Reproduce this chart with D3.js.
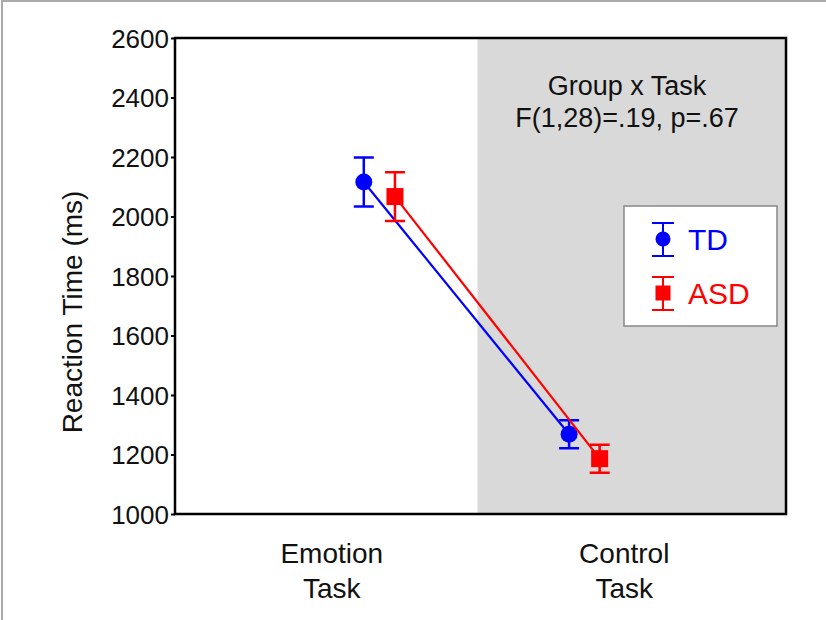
<!DOCTYPE html>
<html>
<head>
<meta charset="utf-8">
<script src="https://cdn.jsdelivr.net/npm/d3@7"></script>
<style>
  body { margin: 0; background: #fff; }
  text { font-family: "Liberation Sans", Arial, sans-serif; }
</style>
</head>
<body>
<div id="chart"></div>
<script>
var w = 826;
var h = 620;

// data
var tasks = ['Emotion Task', 'Control Task'];
var taskX = [1, 2];
var yTicks = [1000, 1200, 1400, 1600, 1800, 2000, 2200, 2400, 2600];

var tdX = [1.118, 1.79];
var tdMean = [2116, 1268];
var tdErr = [82, 47];

var asdX = [1.22, 1.89];
var asdMean = [2067, 1186];
var asdErr = [82, 47];

var shadeFrom = 1.49;
var annotation = ['Group x Task', 'F(1,28)=.19, p=.67'];

var svg = d3.select('#chart')
            .append('svg')
            .attr('width', w)
            .attr('height', h);

// outer frame (top + left only)
svg.append('path')
   .attr('d', 'M2,' + h + 'V1H' + w)
   .style('fill', 'none')
   .style('stroke', '#aaa')
   .style('stroke-width', 2);

var x = d3.scaleLinear()
          .domain([0.5, 2.5])
          .range([175, 786]);

var y = d3.scaleLinear()
          .domain([1000, 2600])
          .range([514, 38]);

// shaded control region
svg.append('rect')
   .attr('x', x(shadeFrom))
   .attr('y', y(2600))
   .attr('width', x(2.5) - x(shadeFrom))
   .attr('height', y(1000) - y(2600))
   .style('fill', '#d9d9d9');

// annotation
svg.selectAll('text.anno')
   .data(annotation)
   .enter()
   .append('text')
   .attr('class', 'anno')
   .attr('x', 627)
   .attr('y', function(d, i) { return 95 + i * 32; })
   .attr('text-anchor', 'middle')
   .style('font-size', '27px')
   .style('fill', '#111')
   .text(function(d) { return d; });

// axes
var yAxis = d3.axisLeft(y)
              .tickValues(yTicks)
              .tickSize(4)
              .tickPadding(2)
              .tickFormat(d3.format('d'));

var gy = svg.append('g')
            .attr('transform', 'translate(' + x(0.5) + ',0)')
            .call(yAxis);
gy.select('.domain').remove();
gy.selectAll('line').style('stroke', '#000').style('stroke-width', 2);
gy.selectAll('text')
  .style('font-size', '26px')
  .style('fill', '#111')
  .attr('dy', '0.36em');

// plot box
svg.append('rect')
   .attr('x', x(0.5))
   .attr('y', y(2600))
   .attr('width', x(2.5) - x(0.5))
   .attr('height', y(1000) - y(2600))
   .style('fill', 'none')
   .style('stroke', '#000')
   .style('stroke-width', 2.5);

// x category labels
var xl = svg.selectAll('text.xl')
            .data(tasks)
            .enter()
            .append('text')
            .attr('class', 'xl')
            .attr('text-anchor', 'middle')
            .style('font-size', '28px')
            .style('fill', '#111');
xl.each(function(d, i) {
    var parts = d.split(' ');
    d3.select(this).selectAll('tspan')
      .data(parts)
      .enter()
      .append('tspan')
      .attr('x', x(taskX[i]) + (i == 0 ? 4 : -9))
      .attr('y', function(p, j) { return 563 + j * 35; })
      .text(function(p) { return p; });
});

// y title
svg.append('text')
   .attr('transform', 'translate(82,312) rotate(-90)')
   .attr('text-anchor', 'middle')
   .style('font-size', '28px')
   .style('fill', '#111')
   .text('Reaction Time (ms)');

var line = d3.line()
             .x(function(d) { return x(d[0]); })
             .y(function(d) { return y(d[1]); });

function errBar(g, cx, m, e, color) {
    var cap = 10;
    g.append('path')
     .attr('d', 'M' + cx + ',' + y(m + e) + 'V' + y(m - e) +
                'M' + (cx - cap) + ',' + y(m + e) + 'h' + (2 * cap) +
                'M' + (cx - cap) + ',' + y(m - e) + 'h' + (2 * cap))
     .style('fill', 'none')
     .style('stroke', color)
     .style('stroke-width', 2.5);
}

function drawSeries(xs, means, errs, color, shape) {
    var g = svg.append('g');
    var pts = xs.map(function(v, i) { return [v, means[i]]; });
    g.append('path')
     .attr('d', line(pts))
     .style('fill', 'none')
     .style('stroke', color)
     .style('stroke-width', 2.2);
    pts.forEach(function(p, i) {
        errBar(g, x(p[0]), p[1], errs[i], color);
        if (shape == 'circle') {
            g.append('circle')
             .attr('cx', x(p[0]))
             .attr('cy', y(p[1]))
             .attr('r', 8.5)
             .style('fill', color);
        } else {
            g.append('rect')
             .attr('x', x(p[0]) - 8.5)
             .attr('y', y(p[1]) - 8.5)
             .attr('width', 17)
             .attr('height', 17)
             .style('fill', color);
        }
    });
}

drawSeries(tdX, tdMean, tdErr, '#0000ff', 'circle');
drawSeries(asdX, asdMean, asdErr, '#ff0000', 'square');

// legend
var legend = svg.append('g');
legend.append('rect')
      .attr('x', 624)
      .attr('y', 206)
      .attr('width', 153)
      .attr('height', 120)
      .style('fill', '#fff')
      .style('stroke', '#888')
      .style('stroke-width', 1.5);

var legItems = [
    {name: 'TD', color: '#0000ff', shape: 'circle', cy: 239},
    {name: 'ASD', color: '#ff0000', shape: 'square', cy: 293}
];
legItems.forEach(function(d) {
    var lx = 663;
    legend.append('path')
          .attr('d', 'M' + lx + ',' + (d.cy - 16) + 'V' + (d.cy + 17) +
                     'M' + (lx - 11) + ',' + (d.cy - 16) + 'h22' +
                     'M' + (lx - 11) + ',' + (d.cy + 17) + 'h22')
          .style('stroke', d.color)
          .style('stroke-width', 2);
    if (d.shape == 'circle') {
        legend.append('circle')
              .attr('cx', lx).attr('cy', d.cy).attr('r', 7.5)
              .style('fill', d.color);
    } else {
        legend.append('rect')
              .attr('x', lx - 7.5).attr('y', d.cy - 7.5)
              .attr('width', 15).attr('height', 15)
              .style('fill', d.color);
    }
    legend.append('text')
          .attr('x', 688)
          .attr('y', d.cy + 11)
          .style('font-size', '30px')
          .style('fill', d.color)
          .text(d.name);
});
</script>
</body>
</html>
